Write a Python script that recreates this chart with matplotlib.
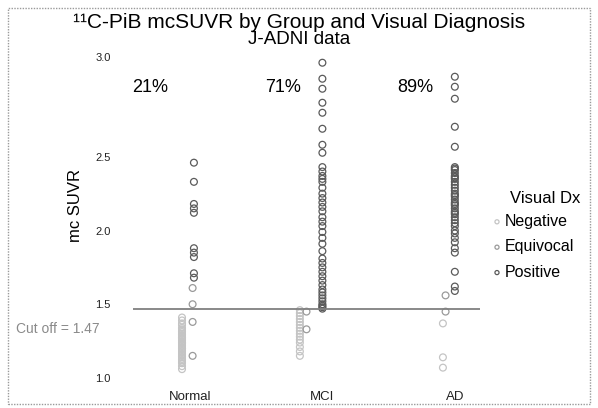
import matplotlib
matplotlib.use("Agg")
import numpy as np
import matplotlib.pyplot as plt
from matplotlib.patches import Rectangle

plt.rcParams['font.family'] = ['Liberation Sans', 'DejaVu Sans']

groups = ["Normal", "MCI", "AD"]
pct_labels = ["21%", "71%", "89%"]
y_ticks = [1.0, 1.5, 2.0, 2.5, 3.0]
cutoff = 1.47

normal_pos = [2.46, 2.33, 2.18, 2.15, 2.12, 1.88, 1.85, 1.82, 1.71, 1.68]
normal_equ = [1.61, 1.50, 1.38, 1.15]
normal_neg = [1.41, 1.39, 1.37, 1.36, 1.34, 1.33, 1.32, 1.31, 1.30, 1.29,
              1.28, 1.27, 1.27, 1.26, 1.25, 1.24, 1.24, 1.23, 1.22, 1.21,
              1.20, 1.20, 1.19, 1.18, 1.17, 1.16, 1.15, 1.14, 1.13, 1.12,
              1.11, 1.10, 1.08, 1.06]

mci_pos = [2.97, 2.89, 2.84, 2.77, 2.72, 2.64, 2.56, 2.52, 2.43, 2.40,
           2.37, 2.35, 2.33, 2.29, 2.25, 2.22, 2.19, 2.16, 2.13, 2.09,
           2.06, 2.03, 1.99, 1.95, 1.91, 1.81, 1.78, 1.75, 1.72, 1.69,
           1.66, 1.63, 1.58, 1.56, 1.54, 1.52, 1.50, 1.49, 1.48, 1.47,
           1.86, 1.60]
mci_equ = [1.45, 1.33]
mci_neg = [1.46, 1.44, 1.42, 1.40, 1.38, 1.36, 1.34, 1.32, 1.30, 1.28,
           1.26, 1.24, 1.21, 1.18, 1.15]

ad_pos = [2.90, 2.85, 2.79, 2.65, 2.55, 2.43, 2.41, 2.39, 2.37, 2.35,
          2.33, 2.31, 2.29, 2.27, 2.25, 2.23, 2.21, 2.19, 2.17, 2.15,
          2.13, 2.11, 2.09, 2.07, 2.05, 2.03, 1.95, 1.92, 1.88, 1.85,
          1.72, 1.62, 1.59, 2.00, 1.98, 2.42, 2.36, 2.24, 2.18, 2.12]
ad_equ = [1.56, 1.45]
ad_neg = [1.37, 1.14, 1.07]

data = {
    "Negative": [normal_neg, mci_neg, ad_neg],
    "Equivocal": [normal_equ, mci_equ, ad_equ],
    "Positive": [normal_pos, mci_pos, ad_pos],
}
colors = {"Negative": "#c4c4c4", "Equivocal": "#9a9a9a", "Positive": "#5a5a5a"}
shift = {"Negative": [-0.06, -0.17, -0.09],
         "Equivocal": [0.02, -0.12, -0.07],
         "Positive": [0.03, 0.0, 0.0]}

# the scanned axis is stretched above 2.5
def fwd(v):
    v = np.asarray(v, dtype=float)
    return np.where(v <= 2.5, v, 2.5 + (v - 2.5) * 1.357)

def inv(u):
    u = np.asarray(u, dtype=float)
    return np.where(u <= 2.5, u, 2.5 + (u - 2.5) / 1.357)

fig = plt.figure(figsize=(5.98, 4.08), dpi=100)
ax = fig.add_axes([133 / 598, 0.0483, 347 / 598, 0.8372])
ax.set_yscale("function", functions=(fwd, inv))

handles = {}
for dx in ["Negative", "Equivocal", "Positive"]:
    for i, vals in enumerate(data[dx]):
        h = ax.scatter([i + shift[dx][i]] * len(vals), vals, s=24,
                       facecolors="none", edgecolors=colors[dx], linewidths=0.9)
        handles[dx] = h

ax.axhline(cutoff, color="#808080", lw=1.3)

ax.set_xlim(-0.43, 2.19)
ax.set_ylim(0.93, 3.05)
ax.set_xticks(range(len(groups)))
ax.set_xticklabels(groups, fontsize=9.5, color="#222222")
ax.set_yticks(y_ticks)
ax.set_yticklabels([f"{t:.1f}" for t in y_ticks], fontsize=8, color="#222222")
ax.minorticks_off()
ax.tick_params(length=0)
ax.tick_params(axis="y", pad=16)
ax.tick_params(axis="x", pad=2)
for s in ax.spines.values():
    s.set_visible(False)

for i, lab in enumerate(pct_labels):
    ax.text(i - 0.3, 2.845, lab, fontsize=13, ha="center", va="center")

fig.text(0.5, 1 - 22 / 408, "\u00b9\u00b9C-PiB mcSUVR by Group and Visual Diagnosis",
         ha="center", va="center", fontsize=15)
fig.text(0.5, 1 - 40 / 408, "J-ADNI data", ha="center", va="center", fontsize=13.5)
fig.text(75 / 598, 1 - 205 / 408, "mc SUVR", rotation=90, ha="center",
         va="center", fontsize=12)
fig.text(58 / 598, 1 - 329 / 408, "Cut off = 1.47", ha="center", va="center",
         fontsize=10, color="#8a8a8a")

fig.text(510 / 598, 1 - 198 / 408, "Visual Dx", ha="left", va="center", fontsize=12)
leg = fig.legend([handles[k] for k in ["Negative", "Equivocal", "Positive"]],
                 ["Negative", "Equivocal", "Positive"],
                 loc="upper left", bbox_to_anchor=(489 / 598, 1 - 214 / 408),
                 frameon=False, fontsize=11.5, handletextpad=0.0,
                 handlelength=1.0, labelspacing=0.65, markerscale=0.6,
                 borderpad=0, borderaxespad=0)

fig.patches.append(Rectangle((8 / 598, 4 / 408), 582 / 598, 396 / 408,
                             transform=fig.transFigure, fill=False,
                             edgecolor="#9a9a9a", lw=1.0, ls=(0, (1, 1))))

fig.savefig("out.png", dpi=100)
